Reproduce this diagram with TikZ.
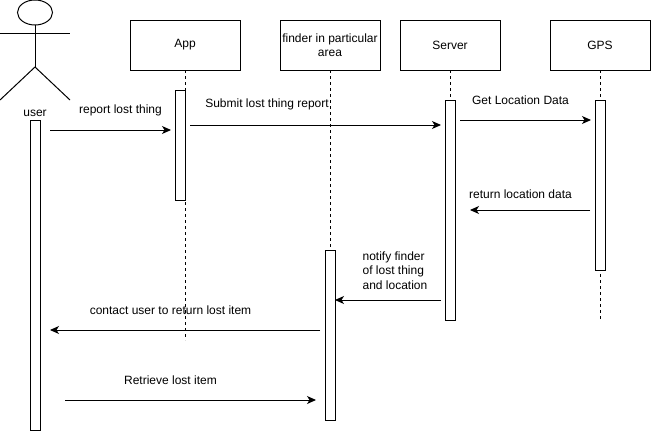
\documentclass[tikz,border=0pt]{standalone}
\usepackage{fontspec}
\setmainfont{Liberation Sans}
\usetikzlibrary{arrows.meta,shapes.geometric}
\tikzset{
  party/.style={draw,minimum width=#1,minimum height=50pt,inner sep=0pt,outer sep=0pt,align=center,font=\fontsize{12}{14.5}\selectfont},
  bar/.style={draw,fill=white,minimum width=10pt,inner sep=0pt,outer sep=0pt},
  lifeline/.style={dashed,dash pattern=on 3pt off 3pt},
  msg/.style={-{Stealth[length=9pt,width=8pt,inset=2.5pt]}},
  lbl/.style={inner sep=0pt,font=\fontsize{12}{14.5}\selectfont}
}
\begin{document}
\begin{tikzpicture}[x=1pt,y=-1pt,line width=1pt]
\useasboundingbox (0,0) rectangle (651,431);
% lifeline heads
\node[party=110pt] (app) at (185,45) {App};
\node[party=100pt] (finder) at (330,45) {finder in particular\\area};
\node[party=100pt] (server) at (450,45) {Server};
\node[party=100pt] (gps) at (600,45) {GPS};
\coordinate (appEnd) at (185,340);
\coordinate (finderEnd) at (330,250);
\coordinate (serverEnd) at (450,100);
\coordinate (gpsEnd) at (600,320);
\draw[lifeline] (app) -- (appEnd);
\draw[lifeline] (finder) -- (finderEnd);
\draw[lifeline] (server) -- (serverEnd);
\draw[lifeline] (gps) -- (gpsEnd);
% actor
\node[draw,ellipse,minimum width=35pt,minimum height=25pt,inner sep=0pt,outer sep=0pt] (head) at (35,12.5) {};
\coordinate (armL) at (0,33.5);
\coordinate (armR) at (70,33.5);
\coordinate (hip) at (35,67);
\coordinate (legL) at (0,100);
\coordinate (legR) at (70,100);
\draw (head) -- (hip);
\draw (armL) -- (armR);
\draw (legL) -- (hip) -- (legR);
\node[lbl] (user) at (35,113.5) {user};
% activation bars
\node[bar,minimum height=310pt] (userBar) at (35,275) {};
\node[bar,minimum height=110pt] (appBar) at (180,145) {};
\node[bar,minimum height=170pt] (finderBar) at (330,335) {};
\node[bar,minimum height=220pt] (serverBar) at (450,210) {};
\node[bar,minimum height=170pt] (gpsBar) at (600,185) {};
% messages
\coordinate (m1a) at (50,130);
\coordinate (m1b) at (171,130);
\coordinate (m2a) at (190,125);
\coordinate (m2b) at (441,125);
\coordinate (m3a) at (460,120);
\coordinate (m3b) at (591,120);
\coordinate (m4a) at (590,210);
\coordinate (m4b) at (470,210);
\coordinate (m5a) at (441,300);
\coordinate (m5b) at (335,300);
\coordinate (m6a) at (320,330);
\coordinate (m6b) at (50,330);
\coordinate (m7a) at (65,400);
\coordinate (m7b) at (316,400);
\draw[msg] (m1a) -- (m1b);
\draw[msg] (m2a) -- (m2b);
\draw[msg] (m3a) -- (m3b);
\draw[msg] (m4a) -- (m4b);
\draw[msg] (m5a) -- (m5b);
\draw[msg] (m6a) -- (m6b);
\draw[msg] (m7a) -- (m7b);
\node[lbl] (t1) at (120.5,110) {report lost thing};
\node[lbl] (t2) at (267,104.5) {Submit lost thing report};
\node[lbl] (t3) at (520.5,100) {Get Location Data};
\node[lbl] (t4) at (520.5,194.5) {return location data};
\node[lbl,align=left] (t5) at (395,270.5) {notify finder\\of lost thing\\and location};
\node[lbl] (t6) at (170.5,310) {contact user to return lost item};
\node[lbl] (t7) at (170.5,380) {Retrieve lost item};
\end{tikzpicture}
\end{document}
